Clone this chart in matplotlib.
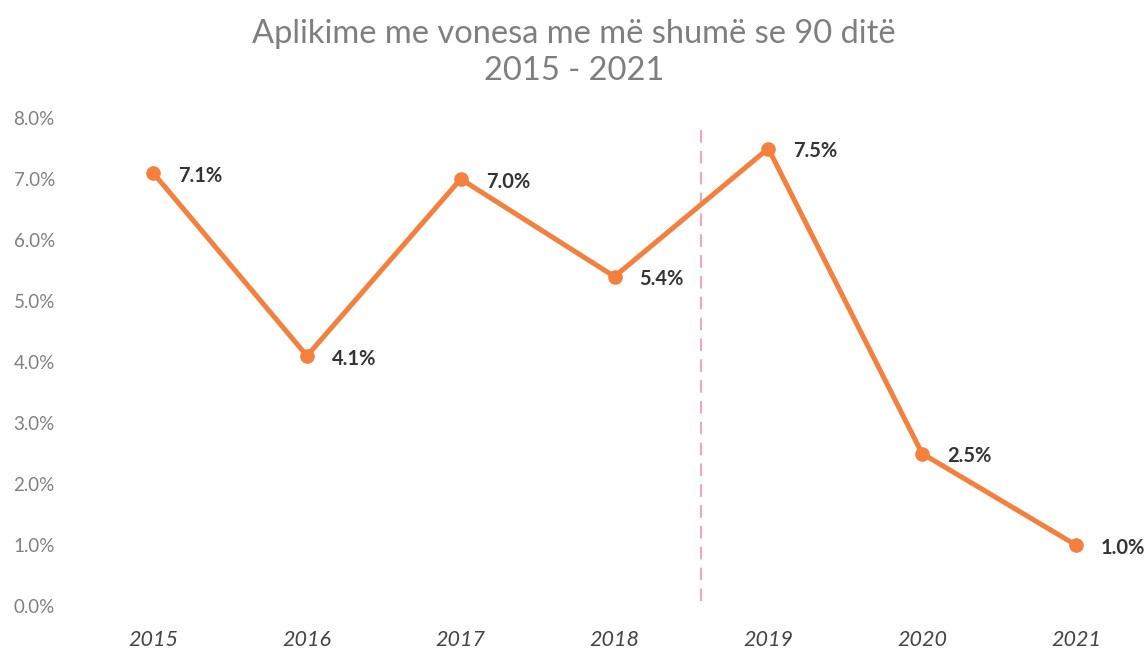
import matplotlib
matplotlib.use("Agg")
import matplotlib.pyplot as plt

years = ["2015", "2016", "2017", "2018", "2019", "2020", "2021"]
values = [7.1, 4.1, 7.0, 5.4, 7.5, 2.5, 1.0]
yticks = [0, 1, 2, 3, 4, 5, 6, 7, 8]
divider_pos = 3.565

plt.rcParams['font.family'] = ['Lato', 'DejaVu Sans']

W, H = 1148, 651
fig = plt.figure(figsize=(W/100, H/100), dpi=100)
ax = fig.add_axes([84/W, (H-606)/H, (1122-84)/W, 488/H])

x = list(range(len(years)))
ax.plot(x, values, color='#F5803E', lw=3.6, marker='o', ms=9.5, solid_capstyle='round', zorder=3)
for xi, v in zip(x, values):
    ax.annotate(f"{v:.1f}%", (xi, v), xytext=(18, -2), textcoords='offset points',
                ha='left', va='center', fontsize=14.5, fontweight='bold', color='#333333')

ax.axvline(divider_pos, ymin=0.01, ymax=0.98, color='#F3A5BA', lw=1.5, ls=(0, (6, 4)), zorder=1)

ax.set_xlim(-0.45, 6.3)
ax.set_ylim(0, 8)
ax.set_xticks(x)
ax.set_xticklabels(years, fontsize=15.5, fontstyle='italic', color='#444444')
ax.set_yticks(yticks)
ax.set_yticklabels([f"{t:.1f}%" for t in yticks], fontsize=13.5, color='#808080')
ax.tick_params(axis='both', length=0)
ax.tick_params(axis='x', pad=17)
ax.tick_params(axis='y', pad=21)
for s in ax.spines.values():
    s.set_visible(False)

fig.text(0.5, 1 - 34/H, "Aplikime me vonesa me më shumë se 90 ditë", ha='center', va='center',
         fontsize=23.5, color='#7F7F7F')
fig.text(0.5, 1 - 71/H, "2015 - 2021", ha='center', va='center', fontsize=23.5, color='#7F7F7F')

fig.savefig("out.png", dpi=100)
